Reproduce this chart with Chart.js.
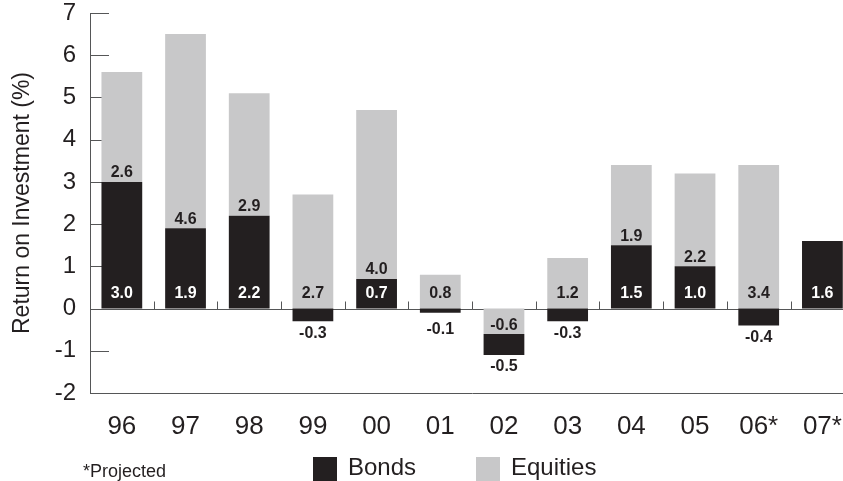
<!DOCTYPE html>
<html>
<head>
<meta charset="utf-8">
<script src="https://cdn.jsdelivr.net/npm/chart.js@4.4.1/dist/chart.umd.min.js"></script>
<style>
  html, body { margin: 0; padding: 0; background: #fff; overflow: hidden; }
  canvas { display: block; }
</style>
</head>
<body>
<canvas id="chart" width="860" height="481"></canvas>
<script>
// data
const categories = ['96', '97', '98', '99', '00', '01', '02', '03', '04', '05', '06*', '07*'];
const bonds = [3.0, 1.9, 2.2, -0.3, 0.7, -0.1, -0.5, -0.3, 1.5, 1.0, -0.4, 1.6];
const equities = [2.6, 4.6, 2.9, 2.7, 4.0, 0.8, -0.6, 1.2, 1.9, 2.2, 3.4, null];
const yTicks = [-2, -1, 0, 1, 2, 3, 4, 5, 6, 7];

const FONT = "'Liberation Sans', Arial, Helvetica, sans-serif";
const BLACK = '#231f20';
const GREY = '#c8c8c9';
const AXIS = '#555657';

// stacking: positive bonds sit on zero, equities on top of them;
// negative equities sit on zero, negative bonds below them
const bondBars = bonds.map((b, i) => {
  const e = equities[i];
  if (b < 0 && e !== null && e < 0) return [e, e + b];
  return [0, b];
});
const equityBars = equities.map((e, i) => {
  if (e === null) return null;
  const b = bonds[i];
  if (e >= 0 && b > 0) return [b, b + e];
  return [0, e];
});

const decorations = {
  id: 'decorations',
  beforeDatasetsDraw(chart) {
    const { ctx, chartArea, scales: { x, y } } = chart;
    const y0 = y.getPixelForValue(0);
    ctx.save();
    ctx.strokeStyle = AXIS;
    ctx.lineWidth = 1;
    // short ticks on the value axis
    yTicks.forEach(v => {
      if (v === 0 || v === yTicks[0]) return;
      const py = Math.round(y.getPixelForValue(v)) + 0.5;
      ctx.beginPath();
      ctx.moveTo(chartArea.left, py);
      ctx.lineTo(chartArea.left + 19, py);
      ctx.stroke();
    });
    // zero line with category separators
    const zy = Math.round(y0) + 0.5;
    ctx.beginPath();
    ctx.moveTo(chartArea.left, zy);
    ctx.lineTo(chartArea.right, zy);
    ctx.stroke();
    const step = x.getPixelForValue(1) - x.getPixelForValue(0);
    for (let i = 1; i < categories.length; i++) {
      const px = Math.round(x.getPixelForValue(i) - step / 2) + 0.5;
      ctx.beginPath();
      ctx.moveTo(px, zy);
      ctx.lineTo(px, zy - 8);
      ctx.stroke();
    }
    ctx.restore();
  },
  afterDatasetsDraw(chart) {
    const { ctx, scales: { x, y } } = chart;
    const y0 = y.getPixelForValue(0);
    ctx.save();
    ctx.font = 'bold 16px ' + FONT;
    ctx.textAlign = 'center';
    ctx.textBaseline = 'middle';
    categories.forEach((c, i) => {
      const px = x.getPixelForValue(i);
      const b = bonds[i];
      const e = equities[i];
      // bonds
      if (b >= 0) {
        ctx.fillStyle = '#fff';
        ctx.fillText(b.toFixed(1), px, y0 - 15);
      } else {
        const bottom = y.getPixelForValue(Math.min(...bondBars[i]));
        ctx.fillStyle = BLACK;
        ctx.fillText(b.toFixed(1), px, Math.max(bottom + 12, y0 + 21));
      }
      // equities
      if (e !== null) {
        ctx.fillStyle = BLACK;
        let ly;
        if (e < 0) ly = y.getPixelForValue(e) - 8;
        else if (b > 0) ly = y.getPixelForValue(b) - 9;
        else ly = y0 - 15;
        ctx.fillText(e.toFixed(1), px, ly);
      }
    });
    ctx.restore();
  },
  afterDraw(chart) {
    const { ctx } = chart;
    ctx.save();
    // legend
    const items = [
      { ds: chart.data.datasets[0], x: 313 },
      { ds: chart.data.datasets[1], x: 476 }
    ];
    ctx.font = '24px ' + FONT;
    ctx.textBaseline = 'alphabetic';
    ctx.textAlign = 'left';
    items.forEach(it => {
      ctx.fillStyle = it.ds.backgroundColor;
      ctx.fillRect(it.x, 457, 24, 24);
      ctx.fillStyle = BLACK;
      ctx.fillText(it.ds.label, it.x + 35, 475);
    });
    // footnote
    ctx.font = '18px ' + FONT;
    ctx.fillText('*Projected', 83, 477);
    ctx.restore();
  }
};

new Chart(document.getElementById('chart'), {
  type: 'bar',
  data: {
    labels: categories,
    datasets: [
      { label: 'Bonds', data: bondBars, backgroundColor: BLACK },
      { label: 'Equities', data: equityBars, backgroundColor: GREY }
    ]
  },
  options: {
    responsive: false,
    animation: false,
    layout: { padding: { top: 13, right: 2, left: 0, bottom: 0 } },
    datasets: {
      bar: { grouped: false, categoryPercentage: 1, barPercentage: 0.64, borderWidth: 0 }
    },
    plugins: {
      legend: { display: false },
      tooltip: { enabled: false }
    },
    scales: {
      x: {
        grid: { display: false, drawTicks: false },
        border: { display: true, color: AXIS, width: 1 },
        ticks: { color: BLACK, padding: 18, font: { family: FONT, size: 26 } },
        afterFit(s) { s.height = 88; }
      },
      y: {
        min: yTicks[0],
        max: yTicks[yTicks.length - 1],
        grid: { display: false, drawTicks: false },
        border: { display: true, color: AXIS, width: 1 },
        ticks: { stepSize: 1, color: BLACK, padding: 14, font: { family: FONT, size: 24, lineHeight: 1 } },
        title: {
          display: true,
          text: 'Return on Investment (%)',
          color: BLACK,
          padding: { top: 9, bottom: 0 },
          font: { family: FONT, size: 23 }
        },
        afterFit(s) {
          s.width = 90;
          // the tick padding otherwise pushes the plot top down
          s.paddingTop = 0;
          s.paddingBottom = 0;
        }
      }
    }
  },
  plugins: [decorations]
});
</script>
</body>
</html>
